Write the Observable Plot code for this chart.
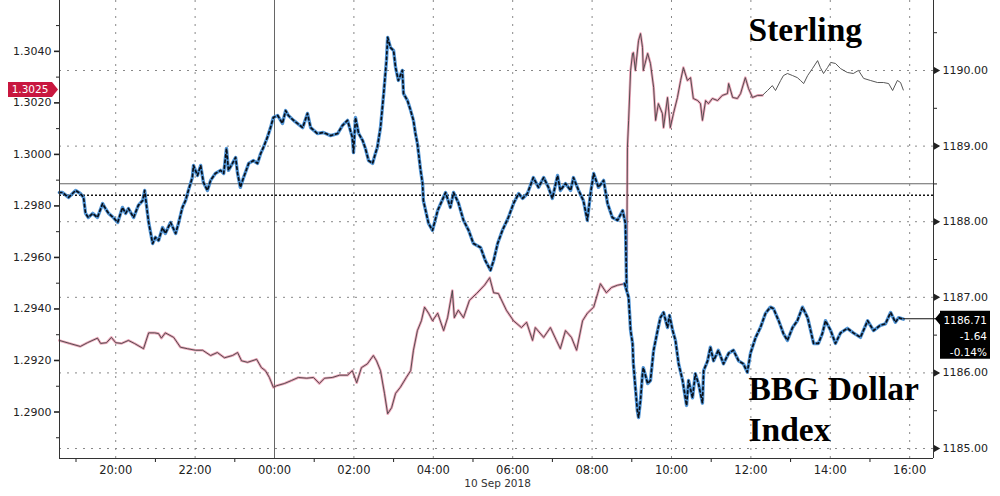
<!DOCTYPE html>
<html><head><meta charset="utf-8">
<script src="https://cdn.jsdelivr.net/npm/d3@7"></script>
<script src="https://cdn.jsdelivr.net/npm/@observablehq/plot@0.6"></script>
<style>html,body{margin:0;padding:0;background:#fff;}#chart svg{display:block;}</style>
</head><body><div id="chart"></div>
<script>
// Times are hours since 9 Sep 2018 00:00
const sterlingHours1 = [18.58,18.66,18.81,18.99,19.11,19.19,19.24,19.31,19.42,19.54,19.67,19.74,19.82,19.94,20.05,20.17,20.25,20.32,20.45,20.57,20.68,20.73,20.80,20.83,20.93,21.00,21.08,21.18,21.25,21.38,21.51,21.58,21.68,21.76,21.83,21.93,21.96,22.06,22.14,22.21,22.31,22.39,22.51,22.64,22.72,22.79,22.84,22.94,23.02,23.07,23.14,23.22,23.35,23.47,23.57,23.65,23.72,23.82,23.90,23.97,24.08,24.20,24.28,24.35,24.48,24.71,24.83,24.91,25.08,25.23,25.41,25.59,25.71,25.84,25.96,25.99,26.04,26.12,26.22,26.29,26.37,26.47,26.54,26.59,26.67,26.75,26.82,26.85,26.92,27.00,27.05,27.12,27.22,27.25,27.35,27.43,27.50,27.55,27.60,27.68,27.73,27.75,27.88,27.98,28.11,28.31,28.43,28.51,28.63,28.76,28.89,29.01,29.19,29.31,29.44,29.52,29.62,29.74,29.89,30.02,30.15,30.25,30.37,30.52,30.65,30.78,30.90,31.00,31.13,31.20,31.33,31.46,31.53,31.66,31.78,31.88,31.96,32.04,32.16,32.29,32.39,32.51,32.64,32.77,32.84,32.87];
const sterlingValues1 = [1.29852,1.29852,1.29833,1.29860,1.29848,1.29833,1.29771,1.29755,1.29771,1.29755,1.29809,1.29790,1.29771,1.29755,1.29736,1.29794,1.29771,1.29790,1.29755,1.29802,1.29821,1.29860,1.29771,1.29736,1.29654,1.29678,1.29666,1.29716,1.29693,1.29736,1.29693,1.29732,1.29794,1.29821,1.29860,1.29910,1.29957,1.29918,1.29957,1.29891,1.29860,1.29899,1.29926,1.29938,1.29926,1.30023,1.29938,1.29965,1.29988,1.29926,1.29872,1.29910,1.29965,1.29976,1.29965,1.30003,1.30027,1.30066,1.30104,1.30143,1.30151,1.30120,1.30170,1.30151,1.30132,1.30104,1.30159,1.30104,1.30081,1.30085,1.30073,1.30081,1.30112,1.30132,1.30066,1.30007,1.30143,1.30081,1.30054,1.30023,1.29976,1.29965,1.30003,1.30027,1.30104,1.30236,1.30364,1.30454,1.30415,1.30403,1.30337,1.30287,1.30326,1.30236,1.30209,1.30170,1.30132,1.30081,1.30042,1.29938,1.29887,1.29821,1.29732,1.29705,1.29782,1.29852,1.29794,1.29852,1.29813,1.29744,1.29705,1.29654,1.29639,1.29588,1.29550,1.29588,1.29654,1.29705,1.29755,1.29809,1.29848,1.29829,1.29848,1.29910,1.29872,1.29910,1.29872,1.29829,1.29918,1.29860,1.29887,1.29860,1.29910,1.29860,1.29821,1.29744,1.29848,1.29926,1.29872,1.29899,1.29809,1.29755,1.29744,1.29782,1.29732,1.29480];
const sterlingHours2 = [32.87,32.89,32.92,32.97,33.02,33.04,33.09,33.17,33.22,33.27,33.29,33.40,33.47,33.55,33.60,33.67,33.77,33.80,33.90,33.97,34.05,34.15,34.23,34.30,34.40,34.48,34.55,34.66,34.73,34.78,34.86,34.93,35.03,35.16,35.28,35.41,35.44,35.54,35.66,35.74,35.86,35.94,36.04,36.17,36.29,36.42,36.54,36.62,36.75,36.82,36.92,37.05,37.17,37.25,37.33,37.43,37.55,37.68,37.75,37.83,37.93,38.01,38.13,38.26,38.43,38.58,38.71,38.84,39.01,39.19,39.34,39.47,39.57,39.69,39.77,39.84];
const sterlingValues2 = [1.29480,1.30027,1.30131,1.30326,1.30392,1.30395,1.30326,1.30442,1.30469,1.30415,1.30326,1.30392,1.30353,1.30260,1.30132,1.30197,1.30159,1.30104,1.30221,1.30104,1.30159,1.30221,1.30287,1.30337,1.30287,1.30298,1.30217,1.30209,1.30197,1.30132,1.30209,1.30197,1.30217,1.30209,1.30229,1.30236,1.30275,1.30221,1.30217,1.30236,1.30298,1.30256,1.30221,1.30229,1.30229,1.30248,1.30267,1.30248,1.30287,1.30306,1.30314,1.30306,1.30298,1.30287,1.30275,1.30306,1.30333,1.30364,1.30337,1.30314,1.30337,1.30357,1.30353,1.30333,1.30318,1.30314,1.30326,1.30295,1.30287,1.30279,1.30279,1.30275,1.30248,1.30287,1.30279,1.30250];
const dollarHours1 = [18.58,18.84,19.11,19.29,19.54,19.62,19.77,19.89,20.00,20.15,20.32,20.47,20.70,20.83,20.98,21.08,21.15,21.25,21.46,21.63,21.81,22.01,22.19,22.39,22.56,22.74,22.94,23.07,23.17,23.32,23.55,23.67,23.77,23.87,23.97,24.05,24.25,24.43,24.60,24.81,24.98,25.13,25.26,25.46,25.64,25.84,25.96,26.07,26.19,26.34,26.49,26.57,26.67,26.77,26.85,26.95,27.05,27.17,27.32,27.43,27.50,27.60,27.70,27.78,27.88,27.98,28.11,28.26,28.36,28.48,28.53,28.63,28.76,28.91,29.09,29.29,29.42,29.52,29.64,29.84,30.02,30.22,30.35,30.50,30.57,30.78,30.95,31.10,31.20,31.33,31.48,31.61,31.76,31.88,32.04,32.14,32.21,32.36,32.49,32.64,32.82];
const dollarValues1 = [1186.43,1186.39,1186.35,1186.40,1186.46,1186.39,1186.40,1186.47,1186.40,1186.39,1186.43,1186.39,1186.32,1186.53,1186.53,1186.52,1186.46,1186.53,1186.47,1186.34,1186.32,1186.30,1186.30,1186.23,1186.27,1186.20,1186.23,1186.27,1186.16,1186.14,1186.18,1186.07,1186.03,1185.94,1185.81,1185.83,1185.86,1185.90,1185.94,1185.93,1185.94,1185.86,1185.93,1185.94,1185.97,1185.97,1186.03,1185.87,1186.07,1186.12,1186.23,1186.16,1186.03,1185.73,1185.46,1185.54,1185.73,1185.81,1185.94,1186.03,1186.30,1186.56,1186.69,1186.87,1186.79,1186.69,1186.79,1186.56,1186.73,1187.09,1186.73,1186.83,1186.73,1186.96,1187.05,1187.16,1187.26,1187.06,1187.05,1186.83,1186.69,1186.60,1186.67,1186.43,1186.60,1186.47,1186.60,1186.43,1186.32,1186.56,1186.47,1186.30,1186.69,1186.79,1186.87,1187.05,1187.18,1187.06,1187.13,1187.16,1187.18];
const dollarHours2 = [32.82,32.92,32.97,33.02,33.04,33.09,33.14,33.17,33.22,33.27,33.29,33.40,33.47,33.55,33.65,33.72,33.80,33.90,33.95,34.03,34.10,34.18,34.28,34.38,34.43,34.53,34.60,34.68,34.78,34.81,34.91,34.98,35.06,35.18,35.31,35.44,35.56,35.69,35.81,35.91,35.99,36.12,36.24,36.37,36.49,36.57,36.70,36.82,36.92,37.05,37.17,37.30,37.43,37.58,37.70,37.80,37.88,38.01,38.13,38.26,38.43,38.58,38.76,38.94,39.09,39.26,39.39,39.52,39.64,39.72,39.84];
const dollarValues2 = [1187.18,1187.00,1186.56,1186.39,1186.12,1185.81,1185.50,1185.41,1185.64,1185.99,1186.07,1185.86,1185.90,1186.30,1186.56,1186.73,1186.80,1186.60,1186.76,1186.56,1186.43,1186.12,1185.90,1185.57,1185.90,1185.67,1185.99,1185.86,1185.60,1186.03,1186.16,1186.34,1186.16,1186.30,1186.12,1186.26,1186.30,1186.16,1186.12,1186.01,1186.26,1186.47,1186.60,1186.79,1186.87,1186.85,1186.69,1186.52,1186.43,1186.60,1186.69,1186.87,1186.73,1186.39,1186.39,1186.52,1186.69,1186.56,1186.39,1186.53,1186.59,1186.53,1186.47,1186.69,1186.56,1186.63,1186.65,1186.80,1186.67,1186.73,1186.71];

const leftTicks = [1.2900,1.2920,1.2940,1.2960,1.2980,1.3000,1.3020,1.3040];
const leftMinorTicks = [1.2890,1.2910,1.2930,1.2950,1.2970,1.2990,1.3010,1.3030,1.3050];
const rightTicks = [1185,1186,1187,1188,1189,1190];
const rightMinorTicks = [1185.5,1186.5,1187.5,1188.5,1189.5,1190.5];
const labelHours = [20,22,24,26,28,30,32,34,36,38,40];
const gridHours = [20,22,26,28,30,32,34,36,38,40];
const dayBreakHours = [24];
const minorHours = [19,21,23,25,27,29,31,33,35,37,39];
const dateLabel = ["10 Sep 2018"];
const dateLabelHour = [29.62];
const annotationLabels = ["Sterling", "BBG Dollar\nIndex"];
const annotationHours = [35.94, 35.94];
const annotationValues = [1.30442, 1.28889];
const sterlingPrevClose = 1.29886;
const dollarPrevClose = 1188.35;
const sterlingLast = 1.3025;
const dollarLast = ["1186.71", "-1.64", "-0.14%"];
const redUntilHour = 36.3;

const base = Date.UTC(2018, 8, 9);
const toDate = h => new Date(base + h * 3600e3);
const xDomain = [toDate(18.584), toDate(40.6)];
const yDomain = [1.288195, 1.305974];
const dDomain = [1184.868, 1190.926];
const toS = d3.scaleLinear(dDomain, yDomain);

const rows = (hs, vs, f = v => v) => hs.map((h, i) => ({t: toDate(h), v: f(vs[i])}));
const st1 = rows(sterlingHours1, sterlingValues1);
const st2 = rows(sterlingHours2, sterlingValues2);
const st2red = st2.filter(d => d.t <= toDate(redUntilHour));
const dl1 = rows(dollarHours1, dollarValues1, toS);
const dl2 = rows(dollarHours2, dollarValues2, toS);
const annotations = annotationLabels.map((l, i) => ({label: l, t: toDate(annotationHours[i]), v: annotationValues[i]}));

const blueUnder = {x: "t", y: "v", stroke: "#3f8ad0", strokeWidth: 3.4, strokeOpacity: 0.9, strokeLinejoin: "round"};
const blueOver = {x: "t", y: "v", stroke: "#0a0f18", strokeWidth: 1.7, strokeDasharray: "2.5,3", strokeLinejoin: "round"};
const redUnder = {x: "t", y: "v", stroke: "#dd5b80", strokeWidth: 2.6, strokeOpacity: 0.55, strokeLinejoin: "round"};
const redOver = {x: "t", y: "v", stroke: "#444", strokeWidth: 0.9, strokeLinejoin: "round"};

function badges(index, scales, values, dims) {
  const g = d3.create("svg:g").attr("font-family", "DejaVu Sans, sans-serif").attr("font-size", 10.5);
  const xl = dims.marginLeft, xr = dims.width - dims.marginRight;
  const ys = scales.y(sterlingLast);
  g.append("path").attr("d", `M${xl - 51},${ys - 7.5}H${xl - 7}L${xl - 1},${ys}L${xl - 7},${ys + 7.5}H${xl - 51}Z`).attr("fill", "#c8173f");
  g.append("text").attr("x", xl - 29).attr("y", ys).attr("dy", "0.36em").attr("text-anchor", "middle").attr("fill", "#fff").text(sterlingLast.toFixed(4));
  const last = dl2[dl2.length - 1];
  const yd = scales.y(last.v), xd = scales.x(last.t);
  g.append("line").attr("x1", xd).attr("x2", xr + 4).attr("y1", yd).attr("y2", yd).attr("stroke", "#111").attr("stroke-width", 1.2);
  g.append("path").attr("d", `M${xr + 2},${yd}L${xr + 7},${yd - 6}V${yd - 8}H${xr + 57}V${yd + 40}H${xr + 7}V${yd + 6}Z`).attr("fill", "#000");
  dollarLast.forEach((s, i) => g.append("text").attr("x", xr + 54).attr("y", yd + 1 + i * 16).attr("dy", "0.36em").attr("text-anchor", "end").attr("fill", "#fff").text(s));
  return g.node();
}

const chart = Plot.plot({
  width: 1000, height: 496,
  marginLeft: 59, marginRight: 67, marginTop: 0, marginBottom: 38,
  style: {fontFamily: "DejaVu Sans, sans-serif", fontSize: "11px", color: "#222", background: "#fff", overflow: "visible"},
  x: {type: "utc", domain: xDomain},
  y: {domain: yDomain},
  marks: [
    Plot.ruleY(rightTicks.map(toS), {stroke: "#888", strokeDasharray: "2,6"}),
    Plot.ruleX(gridHours.map(toDate), {stroke: "#888", strokeDasharray: "2,6"}),
    Plot.ruleX(dayBreakHours.map(toDate), {stroke: "#666"}),
    Plot.ruleY([sterlingPrevClose], {stroke: "#666"}),
    Plot.ruleY([toS(dollarPrevClose)], {stroke: "#111", strokeWidth: 1.6, strokeDasharray: "2,2"}),
    Plot.line(dl1, redUnder),
    Plot.line(dl1, redOver),
    Plot.line(st2red, redUnder),
    Plot.line(st2, redOver),
    Plot.line(st1, blueUnder),
    Plot.line(st1, blueOver),
    Plot.line(dl2, blueUnder),
    Plot.line(dl2, blueOver),
    Plot.axisY({anchor: "left", ticks: leftTicks, tickSize: 5, tickPadding: 3, strokeWidth: 1.6, tickFormat: d3.format(".4f"), label: null, fontSize: 11}),
    Plot.axisY({anchor: "left", ticks: leftMinorTicks, tickSize: 3, tickFormat: () => "", label: null}),
    Plot.axisY({anchor: "right", ticks: rightTicks.map(toS), tickSize: 5, tickPadding: 4, tickFormat: v => toS.invert(v).toFixed(2), label: null, fontSize: 11}),
    Plot.axisY({anchor: "right", ticks: rightMinorTicks.map(toS), tickSize: 3, tickFormat: () => "", label: null}),
    Plot.dot(rightTicks.map(toS), {y: d => d, frameAnchor: "right", symbol: "triangle", rotate: 90, r: 3, fill: "#222", dx: 2}),
    Plot.axisX({ticks: labelHours.map(toDate), tickSize: 0, tickPadding: 7, tickFormat: d3.utcFormat("%H:%M"), label: null, fontSize: 11.5}),
    Plot.axisX({ticks: minorHours.map(toDate), tickSize: 4, tickFormat: () => "", label: null}),
    Plot.ruleX(xDomain, {stroke: "#333"}),
    Plot.ruleY([yDomain[0]], {stroke: "#333"}),
    Plot.text(dateLabel, {x: () => toDate(dateLabelHour[0]), text: d => d, frameAnchor: "bottom", dy: 28, fontSize: 10.5, fill: "#333"}),
    Plot.text(annotations, {x: "t", y: "v", text: "label", textAnchor: "start", lineAnchor: "bottom", lineHeight: 1.2, fontFamily: "Liberation Serif, serif", fontWeight: "bold", fontSize: 33.5, fill: "#000"}),
    badges
  ]
});
document.getElementById("chart").append(chart);
</script>
</body></html>
